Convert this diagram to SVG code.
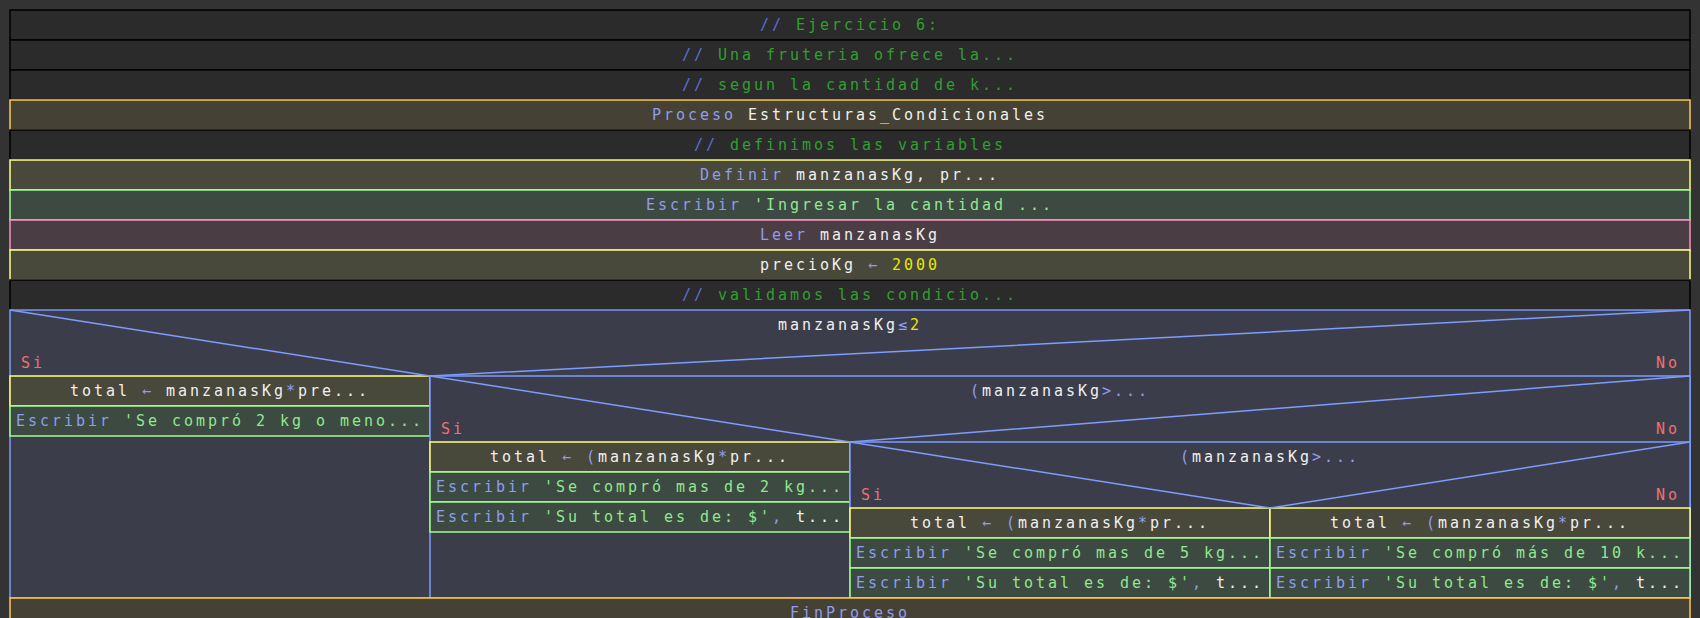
<svg xmlns="http://www.w3.org/2000/svg" width="1700" height="618" viewBox="0 0 1700 618">
<style>
text{font-family:"DejaVu Sans Mono","Liberation Mono",monospace;font-size:15px;letter-spacing:2.97px;fill:#f0f0f0}
.c{text-anchor:middle}
.e{text-anchor:end}
.com{fill:#2b2b2b;stroke:#000;stroke-width:1.5}
.pro{fill:#464135;stroke:#ffc850;stroke-width:1.5}
.asg{fill:#48483b;stroke:#ffff80;stroke-width:1.5}
.esc{fill:#3d4a41;stroke:#a0ff90;stroke-width:1.5}
.lee{fill:#4a3d44;stroke:#ff90c0;stroke-width:1.5}
.sif{fill:#3b3e4a;stroke:#7c9cff;stroke-width:1.5}
.k{fill:#8f9cf0}
.sl{fill:#5a6ed8}
.cg{fill:#2ea02e}
.s{fill:#90e890}
.n{fill:#e8e800}
.sn{fill:#f07070}
.dl{stroke:#7c9cff;stroke-width:1.5;fill:none}
</style>
<rect width="1700" height="618" fill="#333333"/>
<g id="c1"><rect class="com" x="10" y="10" width="1680" height="30"/><text class="c" x="850" y="30"><tspan class="sl">//</tspan><tspan class="cg"> Ejercicio 6:</tspan></text></g>
<g id="c2"><rect class="com" x="10" y="40" width="1680" height="30"/><text class="c" x="850" y="60"><tspan class="sl">//</tspan><tspan class="cg"> Una fruteria ofrece la...</tspan></text></g>
<g id="c3"><rect class="com" x="10" y="70" width="1680" height="30"/><text class="c" x="850" y="90"><tspan class="sl">//</tspan><tspan class="cg"> segun la cantidad de k...</tspan></text></g>
<g id="proceso"><rect class="pro" x="10" y="100" width="1680" height="30"/><text class="c" x="850" y="120"><tspan class="k">Proceso</tspan> Estructuras_Condicionales</text></g>
<g id="c4"><rect class="com" x="10" y="130" width="1680" height="30"/><text class="c" x="850" y="150"><tspan class="sl">//</tspan><tspan class="cg"> definimos las variables</tspan></text></g>
<g id="definir"><rect class="asg" x="10" y="160" width="1680" height="30"/><text class="c" x="850" y="180"><tspan class="k">Definir</tspan> manzanasKg, pr...</text></g>
<g id="escribir1"><rect class="esc" x="10" y="190" width="1680" height="30"/><text class="c" x="850" y="210"><tspan class="k">Escribir</tspan><tspan class="s"> 'Ingresar la cantidad ...</tspan></text></g>
<g id="leer"><rect class="lee" x="10" y="220" width="1680" height="30"/><text class="c" x="850" y="240"><tspan class="k">Leer</tspan> manzanasKg</text></g>
<g id="precio"><rect class="asg" x="10" y="250" width="1680" height="30"/><text class="c" x="850" y="270">precioKg <tspan class="k">←</tspan> <tspan class="n">2000</tspan></text></g>
<g id="c5"><rect class="com" x="10" y="280" width="1680" height="30"/><text class="c" x="850" y="300"><tspan class="sl">//</tspan><tspan class="cg"> validamos las condicio...</tspan></text></g>

<g id="si1">
<rect class="sif" x="10" y="310" width="1680" height="288"/>
<text class="c" x="850" y="330">manzanasKg<tspan class="k">≤</tspan><tspan class="n">2</tspan></text>
<text class="sn" x="21" y="367.5">Si</text>
<text class="sn e" x="1680" y="367.5">No</text>
</g>
<g id="b1a"><rect class="asg" x="10" y="376" width="420" height="30"/><text class="c" x="220" y="396">total <tspan class="k">←</tspan> manzanasKg<tspan class="k">*</tspan>pre...</text></g>
<g id="b1b"><rect class="esc" x="10" y="406" width="420" height="30"/><text class="c" x="220" y="426"><tspan class="k">Escribir</tspan><tspan class="s"> 'Se compró 2 kg o meno...</tspan></text></g>

<g id="si2">
<rect class="sif" x="430" y="376" width="1260" height="222"/>
<text class="c" x="1060" y="396"><tspan class="k">(</tspan>manzanasKg<tspan class="k">&gt;...</tspan></text>
<text class="sn" x="441" y="433.5">Si</text>
<text class="sn e" x="1680" y="433.5">No</text>
</g>
<g id="b2a"><rect class="asg" x="430" y="442" width="420" height="30"/><text class="c" x="640" y="462">total <tspan class="k">←</tspan> <tspan class="k">(</tspan>manzanasKg<tspan class="k">*</tspan>pr...</text></g>
<g id="b2b"><rect class="esc" x="430" y="472" width="420" height="30"/><text class="c" x="640" y="492"><tspan class="k">Escribir</tspan><tspan class="s"> 'Se compró mas de 2 kg...</tspan></text></g>
<g id="b2c"><rect class="esc" x="430" y="502" width="420" height="30"/><text class="c" x="640" y="522"><tspan class="k">Escribir</tspan><tspan class="s"> 'Su total es de: $'</tspan><tspan class="k">, </tspan>t...</text></g>

<g id="si3">
<rect class="sif" x="850" y="442" width="840" height="156"/>
<text class="c" x="1270" y="462"><tspan class="k">(</tspan>manzanasKg<tspan class="k">&gt;...</tspan></text>
<text class="sn" x="861" y="499.5">Si</text>
<text class="sn e" x="1680" y="499.5">No</text>
</g>
<g id="b3a"><rect class="asg" x="850" y="508" width="420" height="30"/><text class="c" x="1060" y="528">total <tspan class="k">←</tspan> <tspan class="k">(</tspan>manzanasKg<tspan class="k">*</tspan>pr...</text></g>
<g id="b3b"><rect class="esc" x="850" y="538" width="420" height="30"/><text class="c" x="1060" y="558"><tspan class="k">Escribir</tspan><tspan class="s"> 'Se compró mas de 5 kg...</tspan></text></g>
<g id="b3c"><rect class="esc" x="850" y="568" width="420" height="30"/><text class="c" x="1060" y="588"><tspan class="k">Escribir</tspan><tspan class="s"> 'Su total es de: $'</tspan><tspan class="k">, </tspan>t...</text></g>
<g id="b4a"><rect class="asg" x="1270" y="508" width="420" height="30"/><text class="c" x="1480" y="528">total <tspan class="k">←</tspan> <tspan class="k">(</tspan>manzanasKg<tspan class="k">*</tspan>pr...</text></g>
<g id="b4b"><rect class="esc" x="1270" y="538" width="420" height="30"/><text class="c" x="1480" y="558"><tspan class="k">Escribir</tspan><tspan class="s"> 'Se compró más de 10 k...</tspan></text></g>
<g id="b4c"><rect class="esc" x="1270" y="568" width="420" height="30"/><text class="c" x="1480" y="588"><tspan class="k">Escribir</tspan><tspan class="s"> 'Su total es de: $'</tspan><tspan class="k">, </tspan>t...</text></g>

<g id="connectors">
<polyline class="dl" points="10,310 430,376 1690,310"/>
<polyline class="dl" points="430,376 850,442 1690,376"/>
<polyline class="dl" points="850,442 1270,508 1690,442"/>
</g>
<g id="finproceso"><rect class="pro" x="10" y="598" width="1680" height="30"/><text class="c k" x="850" y="618">FinProceso</text></g>
</svg>
